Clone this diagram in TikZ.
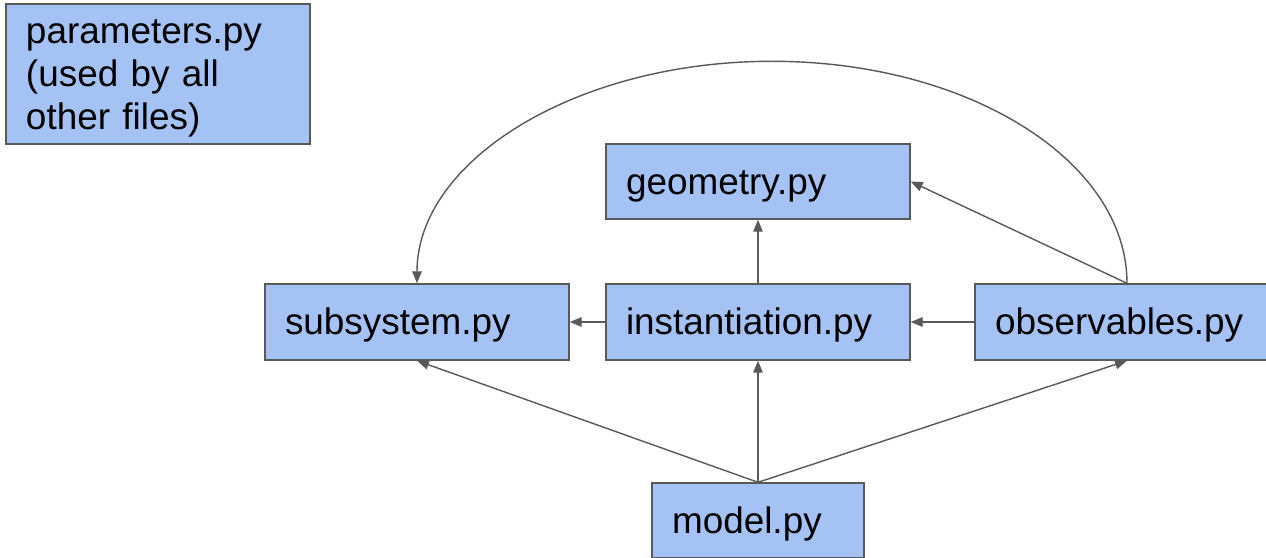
\documentclass[tikz,border=0pt]{standalone}
\usepackage{fontspec}
\setmainfont{Liberation Sans}
\usetikzlibrary{arrows.meta}
\definecolor{fileblue}{RGB}{164,194,244}
\definecolor{edgegray}{RGB}{89,89,89}
\newcommand{\linestrut}{\rule[-0.212em]{0pt}{1.117em}}
\tikzset{
  file/.style={draw=edgegray, fill=fileblue, line width=0.8pt,
    align=left, inner xsep=0.4cm, inner ysep=0pt,
    font=\fontsize{21}{24.5}\selectfont, execute at begin node=\linestrut},
  flow/.style={-{Triangle[length=2.4mm, width=1.9mm]}, line width=0.8pt, draw=edgegray}
}
\begin{document}
\begin{tikzpicture}[x=1cm,y=1cm]
\useasboundingbox (0,0) rectangle (25.32,11.14);

% Shared parameters file
\node[file, text width=5.28cm, minimum height=2.8cm] (params) at (3.16,9.66) {parameters.py\\(used by all\\other files)};

% Main row of modules
\node[file, text width=5.28cm, minimum height=1.5cm] (geom) at (15.16,7.51) {geometry.py};
\node[file, text width=5.28cm, minimum height=1.52cm] (subsys) at (8.34,4.70) {subsystem.py};
\node[file, text width=5.28cm, minimum height=1.52cm] (inst) at (15.16,4.70) {instantiation.py};
\node[file, text width=5.28cm, minimum height=1.52cm] (obs) at (22.54,4.70) {observables.py};

% Entry point
\node[file, text width=3.44cm, minimum height=1.5cm] (model) at (15.16,0.73) {model.py};

% Dependency arrows
\draw[flow] (inst.north) -- (geom.south);
\draw[flow] (inst.west) -- (subsys.east);
\draw[flow] (obs.west) -- (inst.east);
\draw[flow] (obs.north) -- (geom.east);
\draw[flow] (obs.north) arc[start angle=0, end angle=180, x radius=7.1, y radius=4.44];
\draw[flow] (model.north) -- (subsys.south);
\draw[flow] (model.north) -- (inst.south);
\draw[flow] (model.north) -- (obs.south);

\end{tikzpicture}
\end{document}
